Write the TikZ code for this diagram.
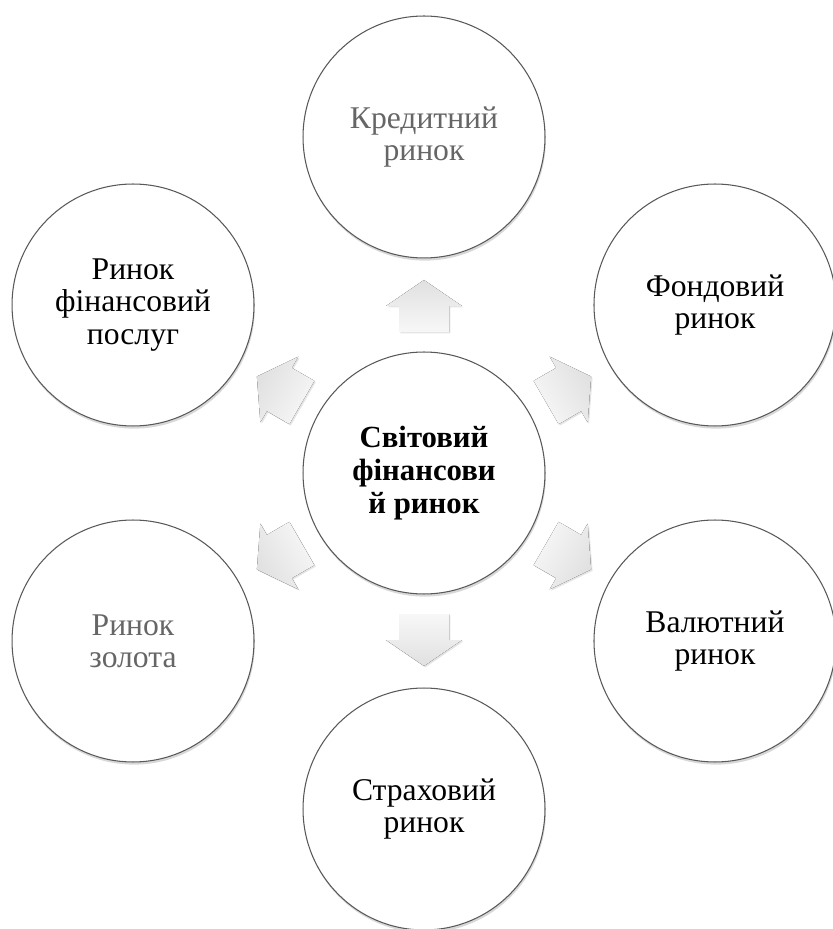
\documentclass[tikz,border=0pt]{standalone}
\usepackage{fontspec}
\setmainfont{Liberation Serif}
\usetikzlibrary{shadows}
\tikzset{
	ring/.style={circle, draw=gray!70!black, line width=0.6pt, fill=white,
		minimum size=4.84cm, inner sep=0pt, align=center,
		font=\fontsize{18}{18.3}\selectfont,
		drop shadow={opacity=0.3, shadow xshift=0.5pt, shadow yshift=-1.5pt}},
	hub/.style={ring, font=\fontsize{17.5}{18.6}\selectfont\bfseries},
	pointer/.style={shading=axis, top color=gray!6, bottom color=gray!24,
		drop shadow={opacity=0.2, shadow xshift=0.8pt, shadow yshift=-0.8pt}}
}
\begin{document}
\begin{tikzpicture}[x=0.02cm, y=0.02cm]
	\useasboundingbox (-424,-456) rectangle (408,473);
	\fill[white] (-424,-456) rectangle (408,473); % háttér
	% nyilak a középső körből kifelé
	\foreach \a in {90,30,-30,-90,-150,150}
		\fill[pointer, rotate=\a, shading angle=\a+90]
			(141,-25) -- (167,-25) -- (167,-38) -- (193,0) -- (167,38) -- (167,25) -- (141,25) -- cycle;
	% középső kör
	\node[hub] (hub) at (0,0) {\rule{0pt}{12pt}Світовий\\фінансови\\й ринок};
	% külső körök
	\node[ring, text=gray!80!black] (credit) at (90:336) {Кредитний\\ринок};
	\node[ring] (stock) at (30:336) {Фондовий\\ринок};
	\node[ring] (currency) at (-30:336) {Валютний\\ринок};
	\node[ring] (insurance) at (-90:336) {Страховий\\ринок};
	\node[ring, text=gray!80!black] (gold) at (-150:336) {Ринок\\золота};
	\node[ring] (services) at (150:336) {Ринок\\фінансовий\\послуг};
\end{tikzpicture}
\end{document}
